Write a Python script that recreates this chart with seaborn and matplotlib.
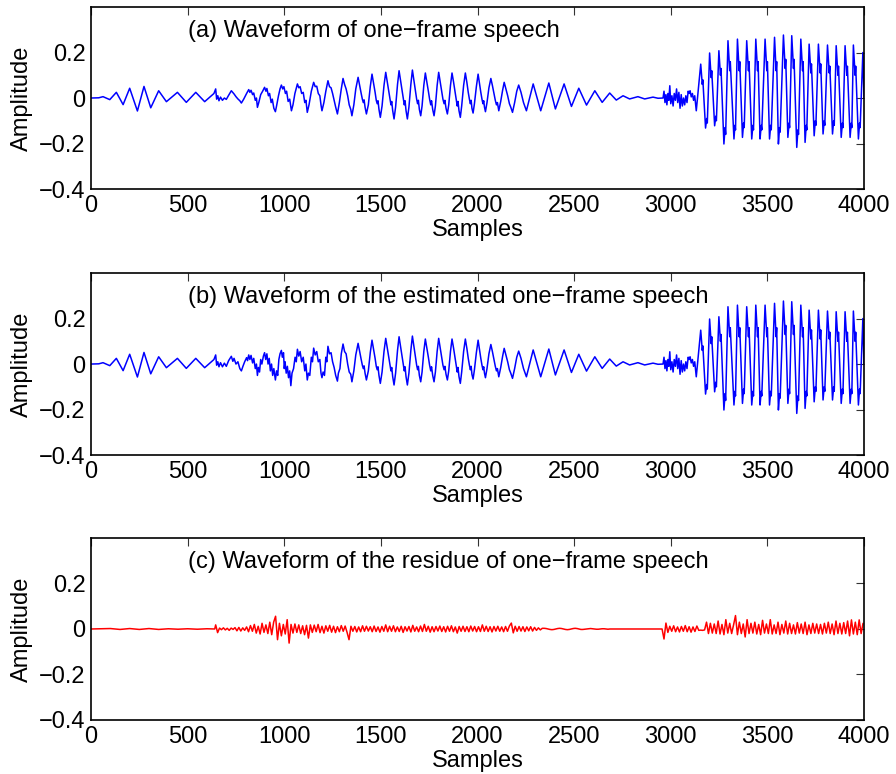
import numpy as np
import pandas as pd
import matplotlib
matplotlib.use("Agg")
import matplotlib.pyplot as plt
import seaborn as sns

# ---------------- data ----------------
# onset segment (shared by panels a and b)
onset_x = [0, 40, 62, 97, 131, 166, 200, 240, 274, 309, 350, 390, 447, 493, 542, 588, 636, 645, 650, 656, 662]
onset_y = [0.0, 0.001, 0.006, -0.007, 0.025, -0.029, 0.043, -0.057, 0.051, -0.043, 0.032, -0.016, 0.025,
           -0.019, 0.025, -0.016, 0.02, 0.04, -0.005, 0.01, -0.012]

# fuzzy voiced segment, panel a
a_fuzz_x = [670, 680, 690, 700, 712, 726, 740, 750, 760, 770, 778, 790, 805, 816, 822, 828, 836, 842, 850, 856,
            861, 868, 878, 888, 898, 905, 910, 918, 924, 932, 938, 946, 954, 960, 970, 978, 985, 992, 998, 1006,
            1012, 1020, 1028, 1037, 1045, 1055, 1068, 1075, 1082, 1090, 1098, 1106, 1112, 1119, 1128, 1140, 1152,
            1160, 1168, 1176, 1184, 1190, 1195, 1205, 1215, 1226, 1234, 1242, 1250, 1258, 1266, 1275, 1285, 1295,
            1304, 1312, 1320, 1328, 1336, 1344]
a_fuzz_y = [0.004, -0.01, 0.0, -0.006, 0.012, 0.032, 0.018, 0.006, -0.004, -0.012, -0.022, -0.005, 0.02, 0.037,
            0.025, 0.034, 0.015, 0.022, -0.01, 0.0, -0.041, -0.02, 0.015, 0.03, 0.047, 0.03, 0.042, 0.01, 0.02,
            -0.02, -0.005, -0.045, -0.06, -0.035, 0.01, 0.04, 0.057, 0.04, 0.05, 0.02, 0.03, -0.015, -0.005, -0.056,
            -0.03, 0.02, 0.062, 0.045, 0.05, 0.02, 0.025, -0.02, -0.01, -0.063, -0.03, 0.03, 0.069, 0.05, 0.052,
            0.02, 0.01, -0.03, -0.056, -0.02, 0.03, 0.076, 0.05, 0.045, 0.02, -0.01, -0.04, -0.07, -0.02, 0.04,
            0.086, 0.06, 0.04, 0.01, -0.03, -0.05]

# fuzzy voiced segment, panel b
b_fuzz_x = [670, 680, 690, 700, 712, 726, 734, 740, 750, 760, 770, 778, 786, 795, 805, 810, 816, 822, 828, 836,
            842, 850, 856, 861, 866, 872, 878, 884, 892, 898, 904, 910, 916, 922, 928, 934, 940, 946, 954, 960,
            966, 972, 978, 985, 990, 996, 1000, 1004, 1010, 1016, 1022, 1028, 1034, 1040, 1048, 1056, 1062, 1068,
            1075, 1082, 1090, 1098, 1106, 1112, 1119, 1125, 1132, 1140, 1146, 1152, 1160, 1168, 1176, 1184, 1190,
            1195, 1201, 1208, 1215, 1220, 1226, 1234, 1242, 1250, 1258, 1266, 1275, 1280, 1288, 1295, 1304, 1312,
            1320, 1328, 1336, 1344]
b_fuzz_y = [0.006, -0.012, 0.004, -0.01, 0.015, 0.034, 0.012, 0.025, 0.0, 0.01, -0.02, -0.03, -0.01, 0.01, 0.028,
            0.015, 0.04, 0.02, 0.038, 0.005, 0.025, -0.02, 0.0, -0.05, -0.015, -0.035, 0.02, 0.0, 0.035, 0.05,
            0.02, 0.045, 0.0, 0.025, -0.03, 0.0, -0.05, -0.02, -0.07, -0.03, -0.05, 0.02, 0.045, 0.06, 0.03, 0.05,
            -0.02, 0.01, -0.04, -0.01, -0.06, -0.03, -0.095, -0.04, -0.02, 0.03, 0.01, 0.065, 0.035, 0.055, 0.01,
            0.03, -0.03, 0.0, -0.07, -0.04, -0.05, 0.03, 0.01, 0.07, 0.04, 0.055, 0.01, 0.02, -0.04, -0.06, -0.035,
            -0.05, 0.03, 0.01, 0.078, 0.045, 0.05, 0.01, -0.015, -0.05, -0.075, -0.04, -0.02, 0.045, 0.088, 0.055,
            0.045, 0.0, -0.035, -0.045]

# sawtooth voiced segment and decaying tail (shared by a and b)
saw_x = [1350, 1360, 1370, 1382, 1390, 1398, 1404, 1409, 1413, 1418, 1425,
         1435, 1445, 1454, 1462, 1470, 1476, 1481, 1485, 1490, 1497,
         1506, 1516, 1525, 1533, 1541, 1547, 1552, 1556, 1561, 1568,
         1576, 1586, 1594, 1602, 1610, 1616, 1621, 1625, 1630, 1637,
         1645, 1655, 1663, 1671, 1679, 1685, 1690, 1694, 1699, 1706,
         1713, 1722, 1730, 1738, 1746, 1752, 1758, 1762, 1768, 1775,
         1782, 1791, 1799, 1807, 1815, 1821, 1827, 1831, 1837, 1844,
         1851, 1860, 1868, 1876, 1884, 1890, 1895, 1899, 1904, 1911,
         1918, 1928, 1937, 1945, 1952, 1958, 1963, 1967, 1971, 1977,
         1984, 1994, 2003, 2010, 2017, 2023, 2028, 2032, 2036, 2041,
         2049, 2059, 2069, 2077, 2085, 2092, 2098, 2103, 2110,
         2120, 2130, 2138, 2147, 2156, 2165, 2172, 2181,
         2192, 2203, 2213, 2225, 2238, 2253,
         2288, 2327, 2369, 2403, 2448, 2486, 2524, 2564, 2607, 2645, 2684, 2718, 2753, 2787, 2830, 2865,
         2908, 2934, 2960]
saw_y = [-0.078, -0.03, 0.04, 0.091, 0.055, 0.02, -0.005, -0.02, -0.008, -0.04, -0.07,
         -0.03, 0.05, 0.105, 0.065, 0.025, -0.01, -0.025, -0.012, -0.05, -0.085,
         -0.035, 0.055, 0.113, 0.07, 0.03, -0.005, -0.03, -0.015, -0.055, -0.092,
         -0.04, 0.06, 0.12, 0.075, 0.03, -0.005, -0.03, -0.012, -0.055, -0.092,
         -0.04, 0.06, 0.123, 0.075, 0.03, -0.005, -0.025, -0.01, -0.05, -0.078,
         -0.035, 0.055, 0.11, 0.07, 0.028, -0.005, -0.03, -0.012, -0.05, -0.078,
         -0.035, 0.055, 0.113, 0.07, 0.028, -0.005, -0.025, -0.01, -0.045, -0.07,
         -0.03, 0.055, 0.11, 0.07, 0.025, -0.01, -0.035, -0.015, -0.055, -0.085,
         -0.035, 0.055, 0.11, 0.068, 0.025, -0.005, -0.025, -0.01, -0.045, -0.066,
         -0.025, 0.05, 0.105, 0.065, 0.025, -0.005, -0.025, -0.012, -0.04, -0.06,
         -0.02, 0.045, 0.086, 0.055, 0.02, -0.01, -0.03, -0.02, -0.056,
         -0.015, 0.035, 0.069, 0.04, 0.01, -0.025, -0.04, -0.063,
         -0.02, 0.03, 0.057, 0.025, -0.02, -0.056,
         0.062, -0.056, 0.066, -0.048, 0.062, -0.037, 0.043, -0.031, 0.032, -0.019, 0.022, -0.009, 0.01,
         -0.004, 0.006, -0.004, 0.004, -0.001, 0.0]

# unvoiced burst + strongly voiced segment (shared by a and b)
burst_x = [2965, 2970, 2975, 2980, 2985, 2990, 2995, 3000, 3006, 3012, 3018, 3024, 3030, 3036, 3042, 3048, 3054,
           3060, 3066, 3072, 3078, 3084, 3090, 3095, 3100, 3106, 3112, 3118, 3124, 3132,
           3155, 3163, 3166, 3180, 3186, 3189, 3201, 3209, 3212, 3227, 3233, 3236, 3249, 3257, 3260, 3275, 3281,
           3284, 3296, 3305, 3308, 3327, 3332, 3335, 3345, 3354, 3357, 3371, 3377, 3380, 3393, 3402, 3405, 3419,
           3425, 3428, 3440, 3449, 3452, 3462, 3468, 3471, 3488, 3497, 3500, 3511, 3517, 3520, 3537, 3545, 3548,
           3557, 3563, 3566, 3583, 3592, 3595, 3606, 3612, 3615, 3626, 3635, 3638, 3652, 3658, 3661, 3673, 3682,
           3685, 3695, 3701, 3704, 3716, 3725, 3728, 3742, 3748, 3751, 3764, 3773, 3776, 3788, 3794, 3797, 3811,
           3820, 3823, 3837, 3843, 3846, 3856, 3865, 3868, 3882, 3888, 3891, 3902, 3911, 3914, 3928, 3934, 3937,
           3945, 3954, 3957, 3971, 3977, 3980, 3994, 4000]
burst_y = [0.03, -0.02, 0.015, -0.03, 0.02, -0.01, 0.054, -0.025, 0.01, -0.035, 0.02, -0.01, 0.04, -0.02, 0.025,
           -0.045, 0.015, -0.035, 0.0, -0.03, 0.01, -0.02, 0.03, 0.02, 0.032, 0.005, 0.02, -0.01, 0.01, -0.056,
           0.149, 0.06, 0.08, -0.132, -0.09, -0.11, 0.198, 0.09, 0.12, -0.122, -0.08, -0.1, 0.208, 0.1, 0.13,
           -0.202, -0.13, -0.16, 0.252, 0.12, 0.16, -0.18, -0.12, -0.14, 0.259, 0.12, 0.16, -0.173, -0.11, -0.13,
           0.252, 0.12, 0.16, -0.18, -0.12, -0.14, 0.259, 0.12, 0.16, -0.18, -0.12, -0.14, 0.259, 0.12, 0.16,
           -0.18, -0.12, -0.14, 0.267, 0.12, 0.16, -0.202, -0.13, -0.15, 0.277, 0.13, 0.17, -0.173, -0.11, -0.13,
           0.274, 0.13, 0.17, -0.217, -0.14, -0.16, 0.259, 0.12, 0.16, -0.195, -0.12, -0.14, 0.237, 0.11, 0.15,
           -0.166, -0.1, -0.12, 0.237, 0.11, 0.15, -0.158, -0.1, -0.12, 0.233, 0.11, 0.14, -0.158, -0.1, -0.12,
           0.23, 0.1, 0.14, -0.173, -0.11, -0.13, 0.23, 0.1, 0.14, -0.173, -0.11, -0.13, 0.233, 0.1, 0.14, -0.18,
           -0.11, -0.13, 0.2, 0.0]

# residue (panel c)
res_head_x = [0, 100, 150, 200, 250, 300, 350, 400, 450, 500, 550, 600, 640]
res_head_y = [0.0, 0.002, -0.002, 0.002, -0.002, 0.002, -0.002, 0.001, -0.001, 0.001, -0.001, 0.001, 0.0]
res_start = 645
res_step = 10
res_y = [
    0.018, -0.016, 0.004, -0.003, 0.005, -0.004, 0.003, -0.006, 0.004, -0.002,
    0.006, -0.008, 0.007, -0.009, 0.005, -0.006, 0.009, -0.012, 0.015, -0.01,
    0.02, -0.018, 0.012, -0.022, 0.025, -0.015, 0.018, -0.02, 0.03, -0.025,
    0.03, 0.056, -0.047, 0.025, -0.03, 0.02, -0.022, 0.041, -0.062, 0.02,
    -0.018, 0.022, -0.015, 0.018, -0.02, 0.014, -0.025, 0.016, -0.04, 0.018,
    -0.015, 0.017, -0.012, 0.02, -0.016, 0.012, -0.018, 0.014, -0.01, 0.016,
    -0.014, 0.012, -0.016, 0.01, -0.012, 0.015, -0.01, 0.013, -0.015, -0.047,
    0.012, -0.01, 0.011, -0.013, 0.009, -0.012, 0.014, -0.01, 0.012, -0.009,
    0.01, -0.012, 0.013, -0.011, 0.009, -0.014, 0.011, -0.01, 0.018, -0.012,
    0.012, -0.01, 0.014, -0.012, 0.009, -0.011, 0.012, -0.015, 0.01, -0.009,
    0.011, -0.013, 0.016, -0.01, 0.009, -0.012, 0.013, -0.011, 0.02, -0.01,
    0.012, -0.014, 0.01, -0.012, 0.011, -0.009, 0.013, -0.011, 0.01, -0.013,
    0.012, -0.01, 0.014, -0.012, 0.009, -0.018, 0.011, -0.01, 0.012, -0.011,
    0.01, -0.012, 0.013, -0.009, 0.011, -0.012, 0.01, -0.011, 0.018, -0.01,
    0.012, -0.011, 0.01, -0.013, 0.011, -0.009, 0.012, -0.01, 0.009, -0.012,
    0.011, -0.01, 0.013, 0.026, -0.017, 0.012, -0.01, 0.011, -0.009, 0.01,
    -0.011, 0.009, -0.008, 0.01, -0.009, 0.007, -0.006, 0.005, -0.004, 0.003,
    0.003, 0.002, 0.0, -0.002, -0.003, -0.002, 0.0, 0.002, 0.003, 0.002,
    0.0, -0.002, -0.003, -0.002, 0.0, 0.002, 0.003, 0.002, 0.0, -0.002,
    -0.002, -0.001, 0.0, 0.001, 0.002, 0.001, 0.0, -0.001, -0.001, 0.0,
    0.001, 0.001, 0.0, -0.001, 0.0, 0.0, 0.0, 0.0, 0.0, 0.0,
    0.0, 0.0, 0.0, 0.0, 0.0, 0.0, 0.0, 0.0, 0.0, 0.0,
    0.0, 0.0, 0.0, 0.0, 0.0, 0.0, 0.0, 0.0, 0.0, 0.0,
    0.0, 0.0, -0.044, 0.026, -0.015, 0.012, -0.01, 0.014, -0.012, 0.009,
    -0.013, 0.011, -0.01, 0.015, -0.012, 0.01, -0.014, 0.009, -0.011, 0.013,
    -0.006, -0.005, -0.006, -0.004, 0.03, -0.02, 0.025, -0.018, 0.022, -0.02,
    0.035, -0.022, 0.02, -0.025, 0.041, -0.018, 0.025, -0.02, 0.018, 0.059,
    -0.025, 0.03, -0.02, 0.022, -0.035, 0.041, -0.02, 0.025, -0.018, 0.03,
    -0.022, 0.02, -0.025, 0.038, -0.018, 0.022, -0.02, 0.041, -0.022, 0.018,
    -0.02, 0.03, -0.025, 0.02, -0.018, 0.035, -0.022, 0.025, -0.02, 0.018,
    -0.022, 0.028, -0.018, 0.022, -0.02, 0.03, -0.025, 0.018, -0.02, 0.025,
    -0.018, 0.022, -0.02, 0.02, -0.022, 0.025, -0.018, 0.03, -0.02, 0.022,
    -0.025, 0.035, -0.02, 0.025, -0.022, 0.028, -0.02, 0.035, -0.03, 0.04,
    -0.022, 0.03, -0.025, 0.04, -0.02, 0.025,
]

titles = ["(a) Waveform of one\u2212frame speech",
          "(b) Waveform of the estimated one\u2212frame speech",
          "(c) Waveform of the residue of one\u2212frame speech"]
x_ticks = [0, 500, 1000, 1500, 2000, 2500, 3000, 3500, 4000]
y_ticks = [-0.4, -0.2, 0, 0.2]
y_ticklabels = ["\u22120.4", "\u22120.2", "0", "0.2"]

# ---------------- assemble series ----------------
a_x = onset_x + a_fuzz_x + saw_x + burst_x
a_y = onset_y + a_fuzz_y + saw_y + burst_y
b_x = onset_x + b_fuzz_x + saw_x + burst_x
b_y = onset_y + b_fuzz_y + saw_y + burst_y
c_x = res_head_x + [res_start + res_step * i for i in range(len(res_y))]
c_y = res_head_y + res_y

panels = [
    pd.DataFrame({"Samples": a_x, "Amplitude": a_y}),
    pd.DataFrame({"Samples": b_x, "Amplitude": b_y}),
    pd.DataFrame({"Samples": c_x, "Amplitude": c_y}),
]
colors = ["#0000ff", "#0000ff", "#ff0000"]

# ---------------- drawing ----------------
sns.set_style("white")
plt.rcParams['font.family'] = ['Liberation Sans', 'DejaVu Sans']
plt.rcParams['text.color'] = 'black'
plt.rcParams['axes.labelcolor'] = 'black'
plt.rcParams['xtick.color'] = 'black'
plt.rcParams['ytick.color'] = 'black'

fig = plt.figure(figsize=(8.96, 7.74), dpi=100)
W = 0.8627
H = 0.2351
bottoms = [0.7558, 0.4121, 0.0698]
FS = 17

for df, col, title, bot in zip(panels, colors, titles, bottoms):
    ax = fig.add_axes([0.1016, bot, W, H])
    sns.lineplot(data=df, x="Samples", y="Amplitude", ax=ax, color=col, linewidth=1.1,
                 estimator=None, sort=False, legend=False)
    ax.set_xlim(0, 4000)
    ax.set_ylim(-0.4, 0.4)
    ax.set_xticks(x_ticks)
    ax.set_xticklabels([str(t) for t in x_ticks])
    ax.set_yticks(y_ticks)
    ax.set_yticklabels(y_ticklabels)
    ax.tick_params(direction='in', length=6, width=0.8, color='#333333', labelcolor='black',
                   top=True, right=True, labelsize=FS, pad=4)
    for sp in ax.spines.values():
        sp.set_visible(True)
        sp.set_color('black')
        sp.set_linewidth(1.2)
    ax.set_xlabel("Samples", fontsize=FS, labelpad=2, color='black')
    ax.set_ylabel("Amplitude", fontsize=FS, labelpad=4, color='black')
    ax.text(502, 0.295, title, fontsize=FS, ha='left', va='center', color='black')

fig.savefig("out.png", dpi=100)
